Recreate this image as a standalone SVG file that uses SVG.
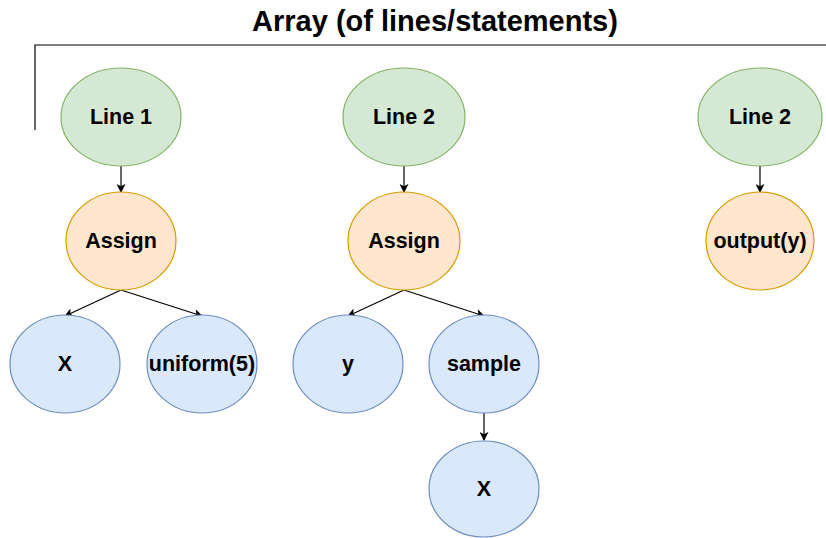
<svg xmlns="http://www.w3.org/2000/svg" width="826" height="538" viewBox="0 0 826 538">
  <style>
    .lbl { font-family: "Liberation Sans", Arial, sans-serif; font-weight: bold; font-size: 21.5px; fill: #000; text-anchor: middle; dominant-baseline: central; }
    .title { font-family: "Liberation Sans", Arial, sans-serif; font-weight: bold; font-size: 29px; fill: #000; text-anchor: middle; }
    .line { fill: #d5e8d4; stroke: #82b366; stroke-width: 1.2; }
    .stmt { fill: #ffe6cc; stroke: #d79b00; stroke-width: 1.2; }
    .term { fill: #dae8fc; stroke: #6c8ebf; stroke-width: 1.2; }
    .edge { fill: none; stroke: #000; stroke-width: 1.2; marker-end: url(#arrow); }
  </style>
  <defs>
    <marker id="arrow" viewBox="0 0 10 10" refX="9" refY="5" markerWidth="9" markerHeight="9" markerUnits="userSpaceOnUse" orient="auto">
      <path d="M0,0 L10,5 L0,10 L2.5,5 Z" fill="#000"/>
    </marker>
  </defs>
  <rect width="826" height="538" fill="#fff"/>

  <!-- array bracket and heading -->
  <g id="array">
    <text class="title" x="435" y="31">Array (of lines/statements)</text>
    <path d="M35,130 V45 H826" fill="none" stroke="#000" stroke-width="1.2"/>
  </g>

  <g id="connectors">
    <path class="edge" d="M121,166 V192"/>
    <path class="edge" d="M121,290 L65,316"/>
    <path class="edge" d="M121,290 L202,316"/>
    <path class="edge" d="M404,166 V192"/>
    <path class="edge" d="M404,290 L348,316"/>
    <path class="edge" d="M404,290 L484,316"/>
    <path class="edge" d="M484,413 V440"/>
    <path class="edge" d="M760,166 V192"/>
  </g>

  <g id="line1"><ellipse class="line" cx="121" cy="117" rx="60" ry="49"/><text class="lbl" x="121" y="117">Line 1</text></g>
  <g id="line2"><ellipse class="line" cx="404" cy="117" rx="61" ry="49"/><text class="lbl" x="404" y="117">Line 2</text></g>
  <g id="line3"><ellipse class="line" cx="760" cy="117" rx="62" ry="49"/><text class="lbl" x="760" y="117">Line 2</text></g>

  <g id="assign1"><ellipse class="stmt" cx="121" cy="241" rx="55" ry="49"/><text class="lbl" x="121" y="241">Assign</text></g>
  <g id="assign2"><ellipse class="stmt" cx="404" cy="241" rx="56" ry="49"/><text class="lbl" x="404" y="241">Assign</text></g>
  <g id="output"><ellipse class="stmt" cx="760" cy="241" rx="54" ry="49"/><text class="lbl" x="760" y="241">output(y)</text></g>

  <g id="x1"><ellipse class="term" cx="65" cy="364" rx="55" ry="49"/><text class="lbl" x="65" y="364">X</text></g>
  <g id="uniform"><ellipse class="term" cx="202" cy="364" rx="55" ry="49"/><text class="lbl" x="202" y="364">uniform(5)</text></g>
  <g id="y"><ellipse class="term" cx="348" cy="364" rx="55" ry="49"/><text class="lbl" x="348" y="364">y</text></g>
  <g id="sample"><ellipse class="term" cx="484" cy="364" rx="55" ry="49"/><text class="lbl" x="484" y="364">sample</text></g>
  <g id="x2"><ellipse class="term" cx="484" cy="489" rx="55" ry="48"/><text class="lbl" x="484" y="489">X</text></g>
</svg>
